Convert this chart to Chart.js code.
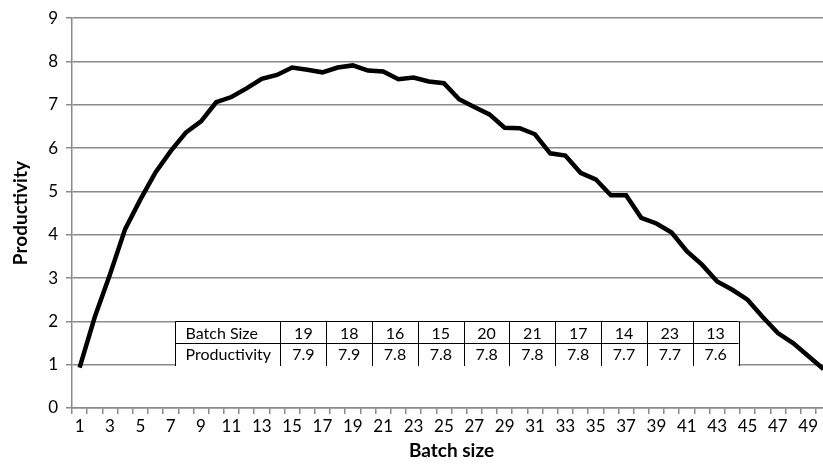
<!DOCTYPE html>
<html>
<head>
<meta charset="utf-8">
<script src="https://cdn.jsdelivr.net/npm/chart.js@4.4.1/dist/chart.umd.min.js"></script>
<style>
  html, body { margin: 0; padding: 0; background: #fff; overflow: hidden; }
  #wrap { width: 831px; height: 465px; }
</style>
</head>
<body>
<div id="wrap"><canvas id="myChart" width="831" height="465"></canvas></div>
<script>
// batch sizes 1..50
var batchSizes = [];
for (var i = 1; i <= 50; i++) batchSizes.push(String(i));

var productivity = [
  0.93, 2.1, 3.08, 4.13, 4.81, 5.44, 5.93, 6.36, 6.62, 7.06,
  7.18, 7.38, 7.6, 7.69, 7.86, 7.81, 7.75, 7.86, 7.91, 7.79,
  7.77, 7.59, 7.63, 7.54, 7.5, 7.13, 6.95, 6.78, 6.47, 6.46,
  6.32, 5.88, 5.83, 5.43, 5.28, 4.91, 4.91, 4.39, 4.26, 4.05,
  3.62, 3.31, 2.92, 2.73, 2.5, 2.1, 1.73, 1.5, 1.2, 0.9
];

var yTicks = [0, 1, 2, 3, 4, 5, 6, 7, 8, 9];

// the little table drawn inside the plot
var tableHeads = ["Batch Size", "Productivity"];
var tableBatch = ["19", "18", "16", "15", "20", "21", "17", "14", "23", "13"];
var tableProd = ["7.9", "7.9", "7.8", "7.8", "7.8", "7.8", "7.8", "7.7", "7.7", "7.6"];

var gridColor = '#8a8a8a';
var font = 'Lato, Carlito, "Open Sans", sans-serif';

var tablePlugin = {
  id: 'tablePlugin',
  afterDatasetsDraw: function(chart) {
    var c = chart.ctx;
    var xs = chart.scales.x, ys = chart.scales.y;
    // table spans between these positions in data units (category index / y value)
    var left = Math.round(xs.getPixelForValue(6.27)) + 0.5;
    var right = Math.round(xs.getPixelForValue(43.38)) + 0.5;
    var top = Math.round(ys.getPixelForValue(2)) + 0.5;
    var bottom = Math.round(ys.getPixelForValue(1));
    var mid = Math.round((top + bottom) / 2) + 0.5;
    var firstW = (right - left) * 0.1865;
    var colW = (right - left - firstW) / tableBatch.length;

    c.save();
    c.fillStyle = '#fff';
    c.fillRect(left, top, right - left, bottom - top + 1);
    c.strokeStyle = '#000';
    c.lineWidth = 1;
    c.beginPath();
    c.moveTo(left, top); c.lineTo(right, top);
    c.moveTo(left, mid); c.lineTo(right, mid);
    c.moveTo(left, top); c.lineTo(left, bottom + 1);
    for (var k = 0; k <= tableBatch.length; k++) {
      var x = Math.round(left + firstW + k * colW) + 0.5;
      c.moveTo(x, top); c.lineTo(x, bottom + 1);
    }
    c.stroke();

    c.fillStyle = '#000';
    c.font = '16px ' + font;
    c.textBaseline = 'middle';
    c.textAlign = 'left';
    c.fillText(tableHeads[0], left + 10, (top + mid) / 2 + 1);
    c.fillText(tableHeads[1], left + 10, (mid + bottom) / 2 + 1);
    c.textAlign = 'center';
    for (var k = 0; k < tableBatch.length; k++) {
      var cx = left + firstW + (k + 0.5) * colW;
      c.fillText(tableBatch[k], cx, (top + mid) / 2 + 1);
      c.fillText(tableProd[k], cx, (mid + bottom) / 2 + 1);
    }
    c.restore();
  }
};

var ctx = document.getElementById('myChart').getContext('2d');
var chart = new Chart(ctx, {
  type: 'line',
  data: {
    labels: batchSizes,
    datasets: [{
      data: productivity,
      borderColor: '#000',
      borderWidth: 4.5,
      pointRadius: 0,
      tension: 0,
      fill: false
    }]
  },
  options: {
    responsive: false,
    animation: false,
    layout: { padding: { top: 12, right: 0, left: 0, bottom: 0 } },
    plugins: {
      legend: { display: false },
      tooltip: { enabled: false }
    },
    scales: {
      x: {
        offset: true,
        grid: {
          offset: true,
          drawOnChartArea: false,
          color: gridColor,
          lineWidth: 1.5,
          tickLength: 6
        },
        border: { color: gridColor, width: 1.5 },
        ticks: {
          autoSkip: false,
          maxRotation: 0,
          color: '#000',
          font: { family: font, size: 17 },
          padding: 2,
          callback: function(v, idx) { return idx % 2 === 0 ? batchSizes[idx] : ''; }
        },
        title: {
          display: true,
          text: 'Batch size',
          color: '#000',
          font: { family: font, size: 19, weight: 'bold' },
          padding: { top: 0, bottom: 3 }
        },
        afterFit: function(s) { s.height = 57; }
      },
      y: {
        min: 0,
        max: 9,
        afterBuildTicks: function(s) { s.ticks = yTicks.map(function(v) { return { value: v }; }); },
        grid: {
          color: gridColor,
          lineWidth: 1.5,
          tickLength: 6
        },
        border: { color: gridColor, width: 1.5 },
        ticks: {
          color: '#000',
          font: { family: font, size: 17 },
          padding: 8
        },
        title: {
          display: true,
          text: 'Productivity',
          color: '#000',
          font: { family: font, size: 19, weight: 'bold' },
          padding: { top: 9, bottom: 0 }
        },
        afterFit: function(s) { s.width = 72; }
      }
    }
  },
  plugins: [tablePlugin]
});
</script>
</body>
</html>
